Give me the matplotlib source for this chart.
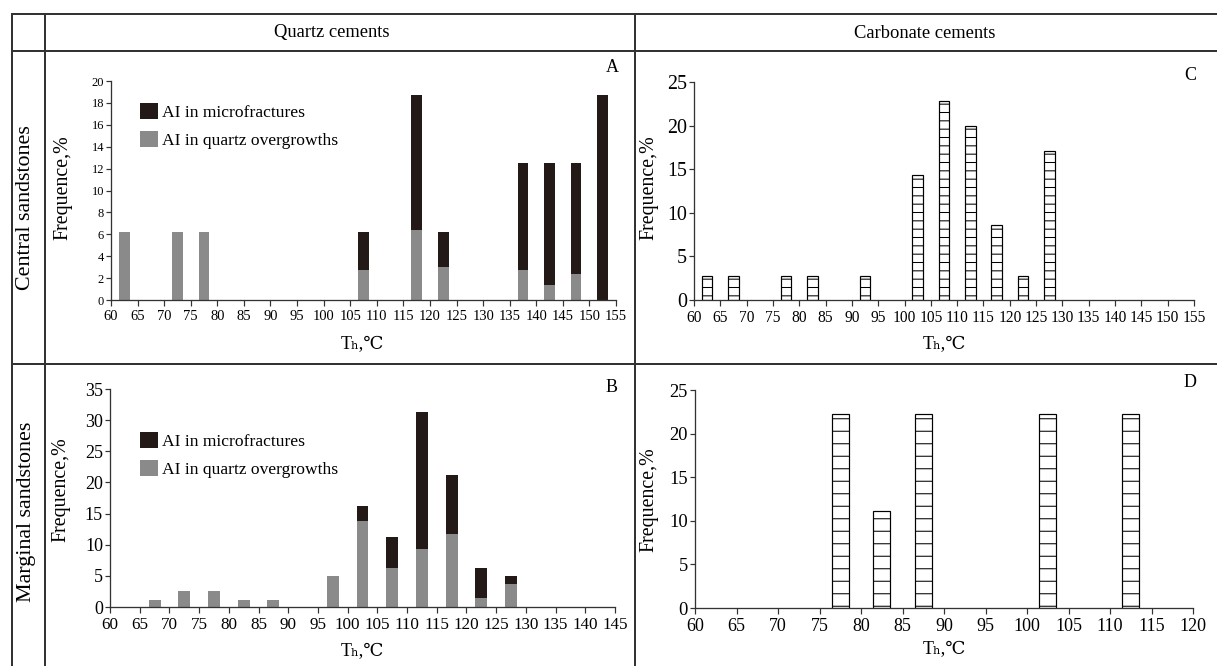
import matplotlib
matplotlib.use('Agg')
import matplotlib.pyplot as plt
from matplotlib.lines import Line2D
from matplotlib.patches import Patch

plt.rcParams['font.family'] = ['Liberation Serif', 'DejaVu Serif']
plt.rcParams['hatch.linewidth'] = 0.5

W, H, DPI = 1217, 666, 150

def pt(px):
    # pixel size -> points at this dpi
    return px * 72.0 / DPI

def box(l, t, r, b):
    return [l / W, 1 - b / H, (r - l) / W, (b - t) / H]

def fx(px):
    return px / W

def fy(py):
    return 1 - py / H

# ---- data ----
# A: central sandstones, quartz cements
a_temp = [62.5, 72.5, 77.5, 107.5, 117.5, 122.5, 137.5, 142.5, 147.5, 152.5]
a_overgrowth = [6.2, 6.2, 6.2, 2.7, 6.4, 3.0, 2.7, 1.4, 2.4, 0.0]
a_microfrac = [0.0, 0.0, 0.0, 3.5, 12.3, 3.2, 9.8, 11.1, 10.1, 18.7]

# B: marginal sandstones, quartz cements
b_temp = [67.5, 72.5, 77.5, 82.5, 87.5, 97.5, 102.5, 107.5, 112.5, 117.5, 122.5, 127.5]
b_overgrowth = [1.1, 2.5, 2.5, 1.1, 1.1, 5.0, 13.8, 6.3, 9.3, 11.8, 1.4, 3.7]
b_microfrac = [0.0, 0.0, 0.0, 0.0, 0.0, 0.0, 2.4, 4.9, 22.0, 9.4, 4.8, 1.3]

# C: central sandstones, carbonate cements
c_temp = [62.5, 67.5, 77.5, 82.5, 92.5, 102.5, 107.5, 112.5, 117.5, 122.5, 127.5]
c_freq = [2.8, 2.8, 2.8, 2.8, 2.8, 14.3, 22.8, 20.0, 8.6, 2.8, 17.1]

# D: marginal sandstones, carbonate cements
d_temp = [77.5, 82.5, 87.5, 102.5, 112.5]
d_freq = [22.2, 11.1, 22.2, 22.2, 22.2]

legend_labels = ['AI in microfractures', 'AI in quartz overgrowths']
col_titles = ['Quartz cements', 'Carbonate cements']
row_titles = ['Central sandstones', 'Marginal sandstones']

GRAY = '#8a8a8a'
BLACK = '#231a17'
LINE = '#333333'

fig = plt.figure(figsize=(W / DPI, H / DPI), dpi=DPI)


def style(ax, xmax, xstep, ymax, ystep, xfs, yfs):
    ax.set_xlim(60, xmax)
    ax.set_ylim(0, ymax)
    ax.set_xticks(range(60, xmax + 1, xstep))
    ax.set_yticks(range(0, ymax + 1, ystep))
    for s in ['top', 'right']:
        ax.spines[s].set_visible(False)
    for s in ['left', 'bottom']:
        ax.spines[s].set_color(LINE)
        ax.spines[s].set_linewidth(pt(1.3))
    ax.tick_params(axis='x', direction='out', length=pt(6), width=pt(1.2),
                   color=LINE, labelsize=pt(xfs), pad=pt(4))
    ax.tick_params(axis='y', direction='out', length=pt(5), width=pt(1.2),
                   color=LINE, labelsize=pt(yfs), pad=pt(2))


def stacked(ax, temp, over, micro):
    ax.bar(temp, over, width=2, color=GRAY, linewidth=0)
    ax.bar(temp, micro, bottom=over, width=2, color=BLACK, linewidth=0)


def hatched(ax, temp, freq, pattern):
    ax.bar(temp, freq, width=2, facecolor='white', edgecolor='black',
           linewidth=pt(1.2), hatch=pattern)


def add_legend(ax, px, py):
    handles = [Patch(facecolor=BLACK), Patch(facecolor=GRAY)]
    ax.legend(handles, legend_labels, loc='upper left', frameon=False,
              bbox_to_anchor=(fx(px), fy(py)), bbox_transform=fig.transFigure,
              fontsize=pt(17.5), handlelength=1.0, handleheight=1.0,
              handletextpad=0.25, labelspacing=0.6, borderpad=0,
              borderaxespad=0)


# A
axA = fig.add_axes(box(111, 81, 616, 300))
stacked(axA, a_temp, a_overgrowth, a_microfrac)
style(axA, 155, 5, 20, 2, 14.5, 12.5)
add_legend(axA, 140, 103)

# B
axB = fig.add_axes(box(110, 389, 615, 607))
stacked(axB, b_temp, b_overgrowth, b_microfrac)
style(axB, 145, 5, 35, 5, 17, 18)
add_legend(axB, 140, 432)

# C
axC = fig.add_axes(box(694, 82, 1194, 300))
hatched(axC, c_temp, c_freq, '---')
style(axC, 155, 5, 25, 5, 15.5, 20)

# D
axD = fig.add_axes(box(695, 390, 1193, 608))
hatched(axD, d_temp, d_freq, '--')
style(axD, 120, 5, 25, 5, 18, 18.5)

# axis labels
for px, py in [(63, 188), (61, 490), (649, 188), (649, 500)]:
    fig.text(fx(px), fy(py), 'Frequence,%', rotation=90, ha='center',
             va='center', fontsize=pt(20))
for px, py in [(362, 345), (362, 652), (944, 345), (944, 650)]:
    fig.text(fx(px), fy(py), 'Tₕ,℃', ha='center', va='center', fontsize=pt(18))

# panel letters
for txt, px, py in [('A', 612, 68), ('B', 612, 387), ('C', 1190, 75), ('D', 1190, 382)]:
    fig.text(fx(px), fy(py), txt, ha='center', va='center', fontsize=pt(18))

# table frame
frame = [((12, 14), (1217, 14)), ((12, 51), (1217, 51)), ((12, 364), (1217, 364)),
         ((12, 14), (12, 666)), ((45, 14), (45, 666)), ((635, 14), (635, 666))]
for (x0, y0), (x1, y1) in frame:
    fig.add_artist(Line2D([fx(x0), fx(x1)], [fy(y0), fy(y1)], color=LINE,
                          linewidth=pt(2), transform=fig.transFigure))

fig.text(fx(332), fy(33), col_titles[0], ha='center', va='center', fontsize=pt(18.5))
fig.text(fx(925), fy(33), col_titles[1], ha='center', va='center', fontsize=pt(18.5))
fig.text(fx(26), fy(208), row_titles[0], rotation=90, ha='center', va='center', fontsize=pt(22))
fig.text(fx(26), fy(512), row_titles[1], rotation=90, ha='center', va='center', fontsize=pt(22))

fig.savefig('out.png', dpi=DPI, facecolor='white')
